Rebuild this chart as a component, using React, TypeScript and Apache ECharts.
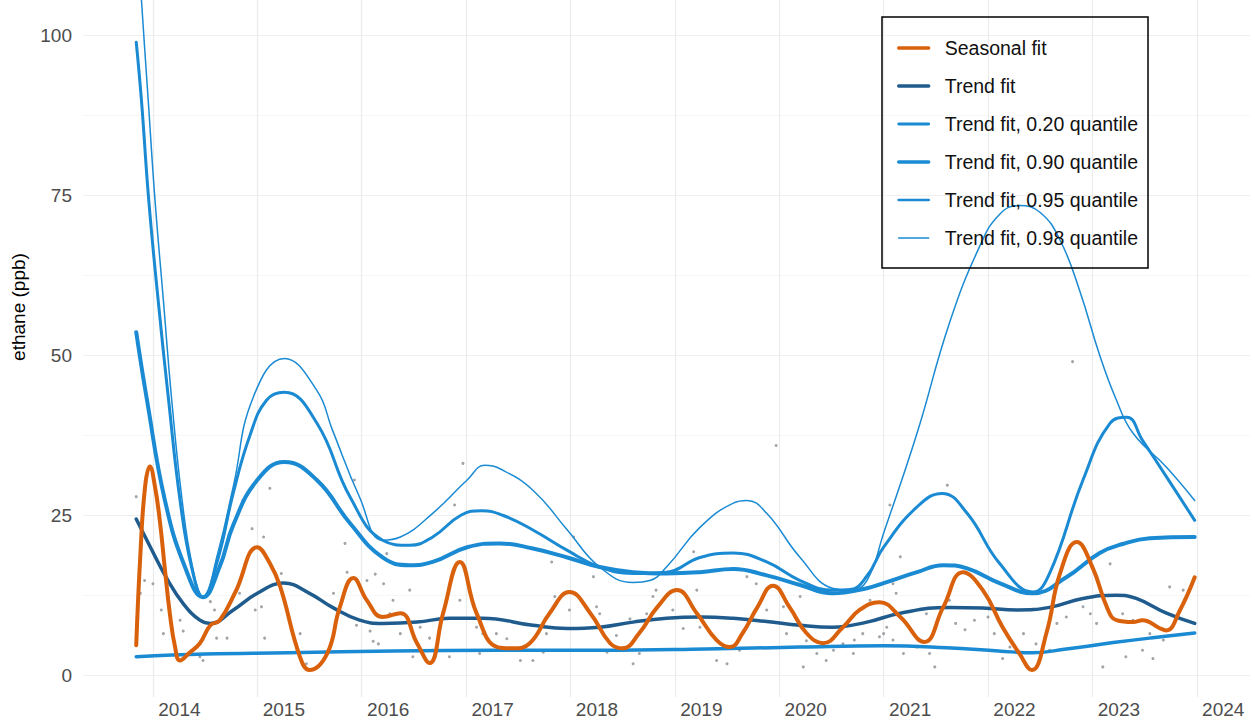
import React, { useEffect, useRef } from "react";
import * as echarts from "echarts";

// ---- Data (x = decimal year, y = ethane ppb) ----
const seasonalFit: [number, number][] = [
  [2013.84, 4.7], [2013.88, 19], [2013.925, 29.5], [2013.971, 32.6], [2014.019, 29.5],
  [2014.067, 24], [2014.115, 16.5], [2014.163, 9.5], [2014.211, 4.5], [2014.259, 2.3],
  [2014.35, 3.5], [2014.45, 5], [2014.55, 7.8], [2014.64, 8.6], [2014.79, 13],
  [2015.0, 20], [2015.12, 17.5], [2015.22, 13.8], [2015.41, 2.8], [2015.5, 0.8],
  [2015.67, 3.4], [2015.79, 10.6], [2015.92, 15.2], [2016.05, 11.7], [2016.2, 9.1],
  [2016.37, 9.7], [2016.53, 5], [2016.65, 1.9], [2016.78, 9.7], [2016.94, 17.7],
  [2017.1, 9.7], [2017.3, 4.4], [2017.45, 4.2], [2017.61, 5], [2017.8, 9.7],
  [2017.99, 13], [2018.19, 9.7], [2018.38, 5], [2018.5, 4.2], [2018.66, 6.6],
  [2018.83, 10.6], [2019.02, 13.3], [2019.21, 9.7], [2019.4, 5.5], [2019.53, 4.4],
  [2019.65, 6.6], [2019.79, 10.6], [2019.94, 14], [2020.1, 10.6], [2020.26, 6.6],
  [2020.42, 5], [2020.61, 7.5], [2020.77, 10.2], [2020.96, 11.4], [2021.16, 9.1],
  [2021.39, 5.2], [2021.57, 10.6], [2021.76, 16.1], [2021.95, 13.3], [2022.14, 7.5],
  [2022.3, 3.4], [2022.42, 0.8], [2022.56, 6.6], [2022.69, 15.9], [2022.85, 20.8],
  [2023.0, 16.9], [2023.14, 10.6], [2023.23, 8.6], [2023.39, 8.3], [2023.48, 8.6],
  [2023.65, 7.3], [2023.71, 7], [2023.84, 10.2], [2023.98, 15.3],
];

const trendFit: [number, number][] = [
  [2013.84, 24.4], [2013.97, 20.2], [2014.13, 15.2], [2014.29, 11.2], [2014.45, 8.6],
  [2014.55, 8.1], [2014.77, 10.2], [2015.0, 12.8], [2015.25, 14.4], [2015.5, 12.8],
  [2015.72, 10.6], [2015.98, 8.6], [2016.2, 8.1], [2016.53, 8.3], [2016.84, 8.9],
  [2017.16, 8.9], [2017.64, 7.8], [2017.97, 7.3], [2018.28, 7.5], [2018.6, 8.3],
  [2018.92, 8.9], [2019.24, 9.1], [2019.56, 8.9], [2019.88, 8.4], [2020.2, 7.8],
  [2020.51, 7.5], [2020.84, 8.3], [2021.16, 9.7], [2021.63, 10.6], [2021.95, 10.5],
  [2022.28, 10.2], [2022.59, 10.6], [2022.91, 12], [2023.23, 12.5], [2023.42, 12],
  [2023.71, 9.7], [2023.98, 8.1],
];

const quantile20: [number, number][] = [
  [2013.84, 2.9], [2014.5, 3.3], [2015.3, 3.5], [2016.3, 3.8], [2017.3, 3.9],
  [2018.3, 3.9], [2019.3, 4.1], [2020.2, 4.4], [2021.0, 4.6], [2021.6, 4.3],
  [2022.1, 3.8], [2022.42, 3.5], [2022.75, 4.1], [2023.2, 5.1], [2023.6, 5.9],
  [2023.98, 6.6],
];

const quantile90: [number, number][] = [
  [2013.84, 53.6], [2013.943, 43], [2014.115, 27.3], [2014.307, 16.9], [2014.479, 12.2],
  [2014.64, 17], [2014.77, 23.5], [2015.0, 30.5], [2015.26, 33.3], [2015.57, 30.5],
  [2015.89, 23.7], [2016.2, 18.4], [2016.46, 17.2], [2016.68, 17.7], [2017.01, 20],
  [2017.32, 20.6], [2017.64, 19.8], [2017.97, 18.4], [2018.28, 16.9], [2018.6, 16.1],
  [2018.92, 15.9], [2019.24, 16.1], [2019.56, 16.6], [2019.88, 15.6], [2020.2, 14.1],
  [2020.51, 12.8], [2020.84, 13.6], [2021.0, 14.4], [2021.32, 16.1], [2021.57, 17.2],
  [2021.8, 16.7], [2022.11, 14.4], [2022.43, 12.8], [2022.75, 15.3], [2023.07, 19.1],
  [2023.29, 20.5], [2023.55, 21.4], [2023.98, 21.6],
];

const quantile95: [number, number][] = [
  [2013.84, 98.9], [2013.89, 89.8], [2013.96, 74.2], [2014.05, 58.6], [2014.15, 43],
  [2014.26, 27.3], [2014.37, 16.9], [2014.48, 12.2], [2014.62, 18], [2014.77, 28.5],
  [2014.93, 37.5], [2015.09, 43], [2015.26, 44.2], [2015.57, 39.4], [2015.89, 27.8],
  [2016.2, 21.1], [2016.46, 20.3], [2016.68, 21.6], [2016.95, 25], [2017.15, 25.7],
  [2017.35, 25], [2017.64, 22.7], [2017.97, 19.5], [2018.28, 16.9], [2018.6, 15.9],
  [2018.92, 16.1], [2019.24, 18.4], [2019.56, 19.1], [2019.88, 17.7], [2020.2, 14.8],
  [2020.51, 13.3], [2020.68, 13.4], [2020.84, 15.5], [2021.0, 20], [2021.32, 26.3],
  [2021.56, 28.4], [2021.8, 25.3], [2022.11, 17.5], [2022.43, 13], [2022.59, 15.9],
  [2022.91, 30.5], [2023.17, 39.4], [2023.33, 40.3], [2023.48, 36.7], [2023.71, 31],
  [2023.98, 24.2],
];

const quantile98: [number, number][] = [
  [2013.84, 119], [2013.89, 105.5], [2013.955, 89.8], [2014.02, 74.2], [2014.1, 58.6],
  [2014.18, 43], [2014.28, 27.3], [2014.38, 16.9], [2014.48, 12.2], [2014.62, 19],
  [2014.77, 29.5], [2014.96, 43.4], [2015.26, 49.5], [2015.57, 44.5], [2015.72, 38.3],
  [2015.98, 27.8], [2016.2, 21.1], [2016.37, 21.6], [2016.68, 25.3], [2017.01, 30.5],
  [2017.18, 32.8], [2017.32, 32.3], [2017.64, 28.9], [2017.97, 22.7], [2018.28, 16.9],
  [2018.6, 14.5], [2018.76, 14.8], [2018.92, 16.9], [2019.24, 23.1], [2019.56, 26.9],
  [2019.69, 27.3], [2019.88, 25.3], [2020.2, 18.4], [2020.51, 13.6], [2020.68, 13.3],
  [2020.84, 14.8], [2021.0, 22.2], [2021.32, 37.8], [2021.63, 55], [2021.92, 67],
  [2022.11, 72], [2022.3, 73.4], [2022.5, 72.3], [2022.69, 68], [2022.88, 60],
  [2023.07, 50], [2023.23, 43], [2023.39, 37.8], [2023.71, 32.5], [2023.98, 27.3],
];

const observations: [number, number][] = [
  [2013.84, 27.9], [2013.92, 14.8], [2013.88, 12.8], [2014.0, 14.3], [2014.08, 10.2],
  [2014.1, 6.5], [2014.26, 8.6], [2014.29, 6.9], [2014.45, 2.9], [2014.48, 2.3],
  [2014.55, 11.5], [2014.59, 10.2], [2014.61, 5.8], [2014.71, 5.8], [2014.86, 27.3],
  [2014.83, 12.8], [2014.95, 22.9], [2015.06, 21.6], [2014.98, 10.2], [2015.04, 10.7],
  [2015.07, 5.8], [2015.12, 29.2], [2015.23, 15.9], [2015.28, 10.2], [2015.41, 6.5],
  [2015.47, 1.8], [2015.73, 12.8], [2015.84, 20.6], [2015.86, 16.1], [2015.93, 30.5],
  [2015.95, 7.8], [2016.0, 21.6], [2016.05, 14.8], [2016.08, 6.9], [2016.11, 5.3],
  [2016.13, 15.8], [2016.16, 4.9], [2016.21, 14.3], [2016.24, 19], [2016.27, 9.6],
  [2016.3, 11.7], [2016.37, 6.5], [2016.46, 13.3], [2016.49, 2.9], [2016.56, 7.5],
  [2016.65, 5.8], [2016.68, 3.9], [2016.84, 2.9], [2016.89, 26.6], [2016.97, 33.1],
  [2016.94, 11.7], [2017.04, 12.8], [2017.1, 7.5], [2017.13, 3.4], [2017.16, 6.5],
  [2017.29, 6.5], [2017.39, 5.7], [2017.52, 2.3], [2017.64, 2.3], [2017.74, 3.6],
  [2017.77, 6.5], [2017.82, 17.7], [2017.85, 12.3], [2017.99, 10.2], [2018.03, 21.6],
  [2018.22, 15.4], [2018.25, 10.7], [2018.28, 9.6], [2018.35, 3.6], [2018.44, 6.2],
  [2018.57, 8.8], [2018.6, 1.8], [2018.66, 3.4], [2018.73, 9.6], [2018.79, 12.3],
  [2018.82, 13.3], [2018.98, 10.2], [2019.08, 7.3], [2019.18, 19.3], [2019.21, 13.3],
  [2019.24, 7.5], [2019.4, 2.3], [2019.5, 1.8], [2019.62, 3.9], [2019.69, 15.4],
  [2019.78, 14.3], [2019.88, 10.2], [2019.97, 35.9], [2020.04, 10.7], [2020.07, 6.5],
  [2020.2, 12.3], [2020.23, 1.3], [2020.26, 5.4], [2020.36, 3.4], [2020.45, 2.3],
  [2020.52, 3.9], [2020.61, 4.9], [2020.71, 3.4], [2020.77, 10.2], [2020.87, 11.7],
  [2020.96, 6], [2021.03, 7.5], [2021.06, 26.6], [2021.09, 14.3], [2021.12, 12.8],
  [2021.16, 18.5], [2020.72, 5.5], [2020.8, 6.5], [2021.0, 6.5], [2021.09, 5.5],
  [2021.19, 3.4], [2021.32, 4.4], [2021.44, 3.4], [2021.49, 1.3], [2021.41, 9.6],
  [2021.61, 29.7], [2021.63, 11.7], [2021.69, 8.1], [2021.78, 7.1], [2021.87, 8.6],
  [2022.0, 9.1], [2022.06, 6.5], [2022.14, 2.6], [2022.21, 4.4], [2022.34, 6.5],
  [2022.46, 4.9], [2022.59, 3.9], [2022.66, 8.1], [2022.75, 9.1], [2022.81, 49],
  [2022.91, 10.7], [2022.98, 9.6], [2023.04, 8.1], [2023.1, 1.3], [2023.17, 17.4],
  [2023.29, 9.6], [2023.32, 2.9], [2023.39, 8.6], [2023.48, 3.9], [2023.55, 6.5],
  [2023.58, 2.6], [2023.68, 5.5], [2023.74, 13.8], [2023.81, 9.1], [2023.87, 13.3],
];

const legendNames = [
  "Seasonal fit",
  "Trend fit",
  "Trend fit, 0.20 quantile",
  "Trend fit, 0.90 quantile",
  "Trend fit, 0.95 quantile",
  "Trend fit, 0.98 quantile",
];

const ORANGE = "#D9610C";
const DARK_BLUE = "#1F5C8D";
const BLUE = "#1A8AD3";
const FONT = "'Liberation Sans', Arial, Helvetica, sans-serif";

export default function App() {
  const ref = useRef<HTMLDivElement>(null);

  useEffect(() => {
    document.body.style.margin = "0";
    const chart = echarts.init(ref.current!, null, { renderer: "svg" });

    const lineSeries = (name: string, data: [number, number][], color: string, width: number, z: number) => ({
      name,
      type: "line",
      data,
      smooth: 0.45,
      symbol: "none",
      clip: true,
      lineStyle: { color, width, cap: "round", join: "round" },
      itemStyle: { color },
      z,
    });

    const legendWidths = [3.4, 3.4, 2.8, 3.4, 2.7, 1.5];

    chart.setOption({
      animation: false,
      backgroundColor: "#ffffff",
      textStyle: { fontFamily: FONT },
      grid: [
        { left: 83, right: 5, top: 0, bottom: 29, containLabel: false },
        // empty helper grid: carries only the y-axis title, centred like the reference
        { left: 83, right: 5, top: 0, bottom: 112, containLabel: false },
      ],
      legend: {
        orient: "vertical",
        left: 882,
        top: 17,
        padding: [21, 10, 20, 15],
        itemWidth: 30,
        itemHeight: 14,
        itemGap: 18,
        borderColor: "#000",
        borderWidth: 1.5,
        itemStyle: { opacity: 0 },
        data: legendNames.map((name, i) => ({ name, lineStyle: { width: legendWidths[i] } })),
        textStyle: { fontSize: 19.5, color: "#111", lineHeight: 20, padding: [0, 0, 0, 11], fontFamily: FONT },
      },
      xAxis: [
        {
          type: "value",
          gridIndex: 0,
          min: 2013.33,
          max: 2024.51,
          minInterval: 1,
          maxInterval: 1,
          splitNumber: 11,
          axisLine: { show: false },
          axisTick: { show: false },
          axisLabel: {
            showMinLabel: false,
            showMaxLabel: false,
            fontSize: 19,
            color: "#4d4d4d",
            margin: 3,
            padding: [0, 0, 0, 53],
            fontFamily: FONT,
            formatter: (v: number) => (Number.isInteger(v) ? String(v) : ""),
          },
          splitLine: { show: true, showMinLine: false, showMaxLine: false, lineStyle: { color: "#ebebeb", width: 1.2 } },
        },
        {
          type: "value",
          gridIndex: 1,
          min: 0,
          max: 1,
          show: false,
        },
      ],
      yAxis: [
        {
          type: "value",
          gridIndex: 0,
          min: -3.4,
          max: 105.5,
          minInterval: 25,
          maxInterval: 25,
          splitNumber: 4,
          axisLine: { show: false },
          axisTick: { show: false },
          axisLabel: {
            showMinLabel: false,
            showMaxLabel: false,
            fontSize: 19,
            color: "#4d4d4d",
            margin: 11,
            fontFamily: FONT,
            formatter: (v: number) => (Number.isInteger(v) ? String(v) : ""),
          },
          splitLine: { show: true, showMinLine: false, showMaxLine: false, lineStyle: { color: "#ebebeb", width: 1.2 } },
        },
        {
          type: "value",
          gridIndex: 0,
          min: -3.4,
          max: 105.5,
          minInterval: 12.5,
          maxInterval: 12.5,
          splitNumber: 8,
          position: "left",
          axisLine: { show: false },
          axisTick: { show: false },
          axisLabel: { show: false },
          splitLine: { show: true, showMinLine: false, showMaxLine: false, lineStyle: { color: "#f2f2f2", width: 0.6 } },
        },
        {
          type: "value",
          gridIndex: 1,
          min: 0,
          max: 1,
          name: "ethane (ppb)",
          nameLocation: "middle",
          nameGap: 55,
          nameTextStyle: { fontSize: 19, color: "#000", fontFamily: FONT },
          axisLine: { show: false },
          axisTick: { show: false },
          axisLabel: { show: false },
          splitLine: { show: false },
        },
      ],
      series: [
        {
          name: "Observations",
          type: "scatter",
          data: observations,
          symbolSize: 3,
          itemStyle: { color: "#8f949a", opacity: 0.85 },
          silent: true,
          z: 1,
        },
        lineSeries(legendNames[2], quantile20, BLUE, 3.5, 2),
        lineSeries(legendNames[3], quantile90, BLUE, 4, 2),
        lineSeries(legendNames[4], quantile95, BLUE, 3, 2),
        lineSeries(legendNames[5], quantile98, BLUE, 1.5, 2),
        lineSeries(legendNames[1], trendFit, DARK_BLUE, 3.5, 3),
        lineSeries(legendNames[0], seasonalFit, ORANGE, 4, 4),
      ],
    });

    return () => chart.dispose();
  }, []);

  return <div ref={ref} style={{ width: 1255, height: 726 }} />;
}
